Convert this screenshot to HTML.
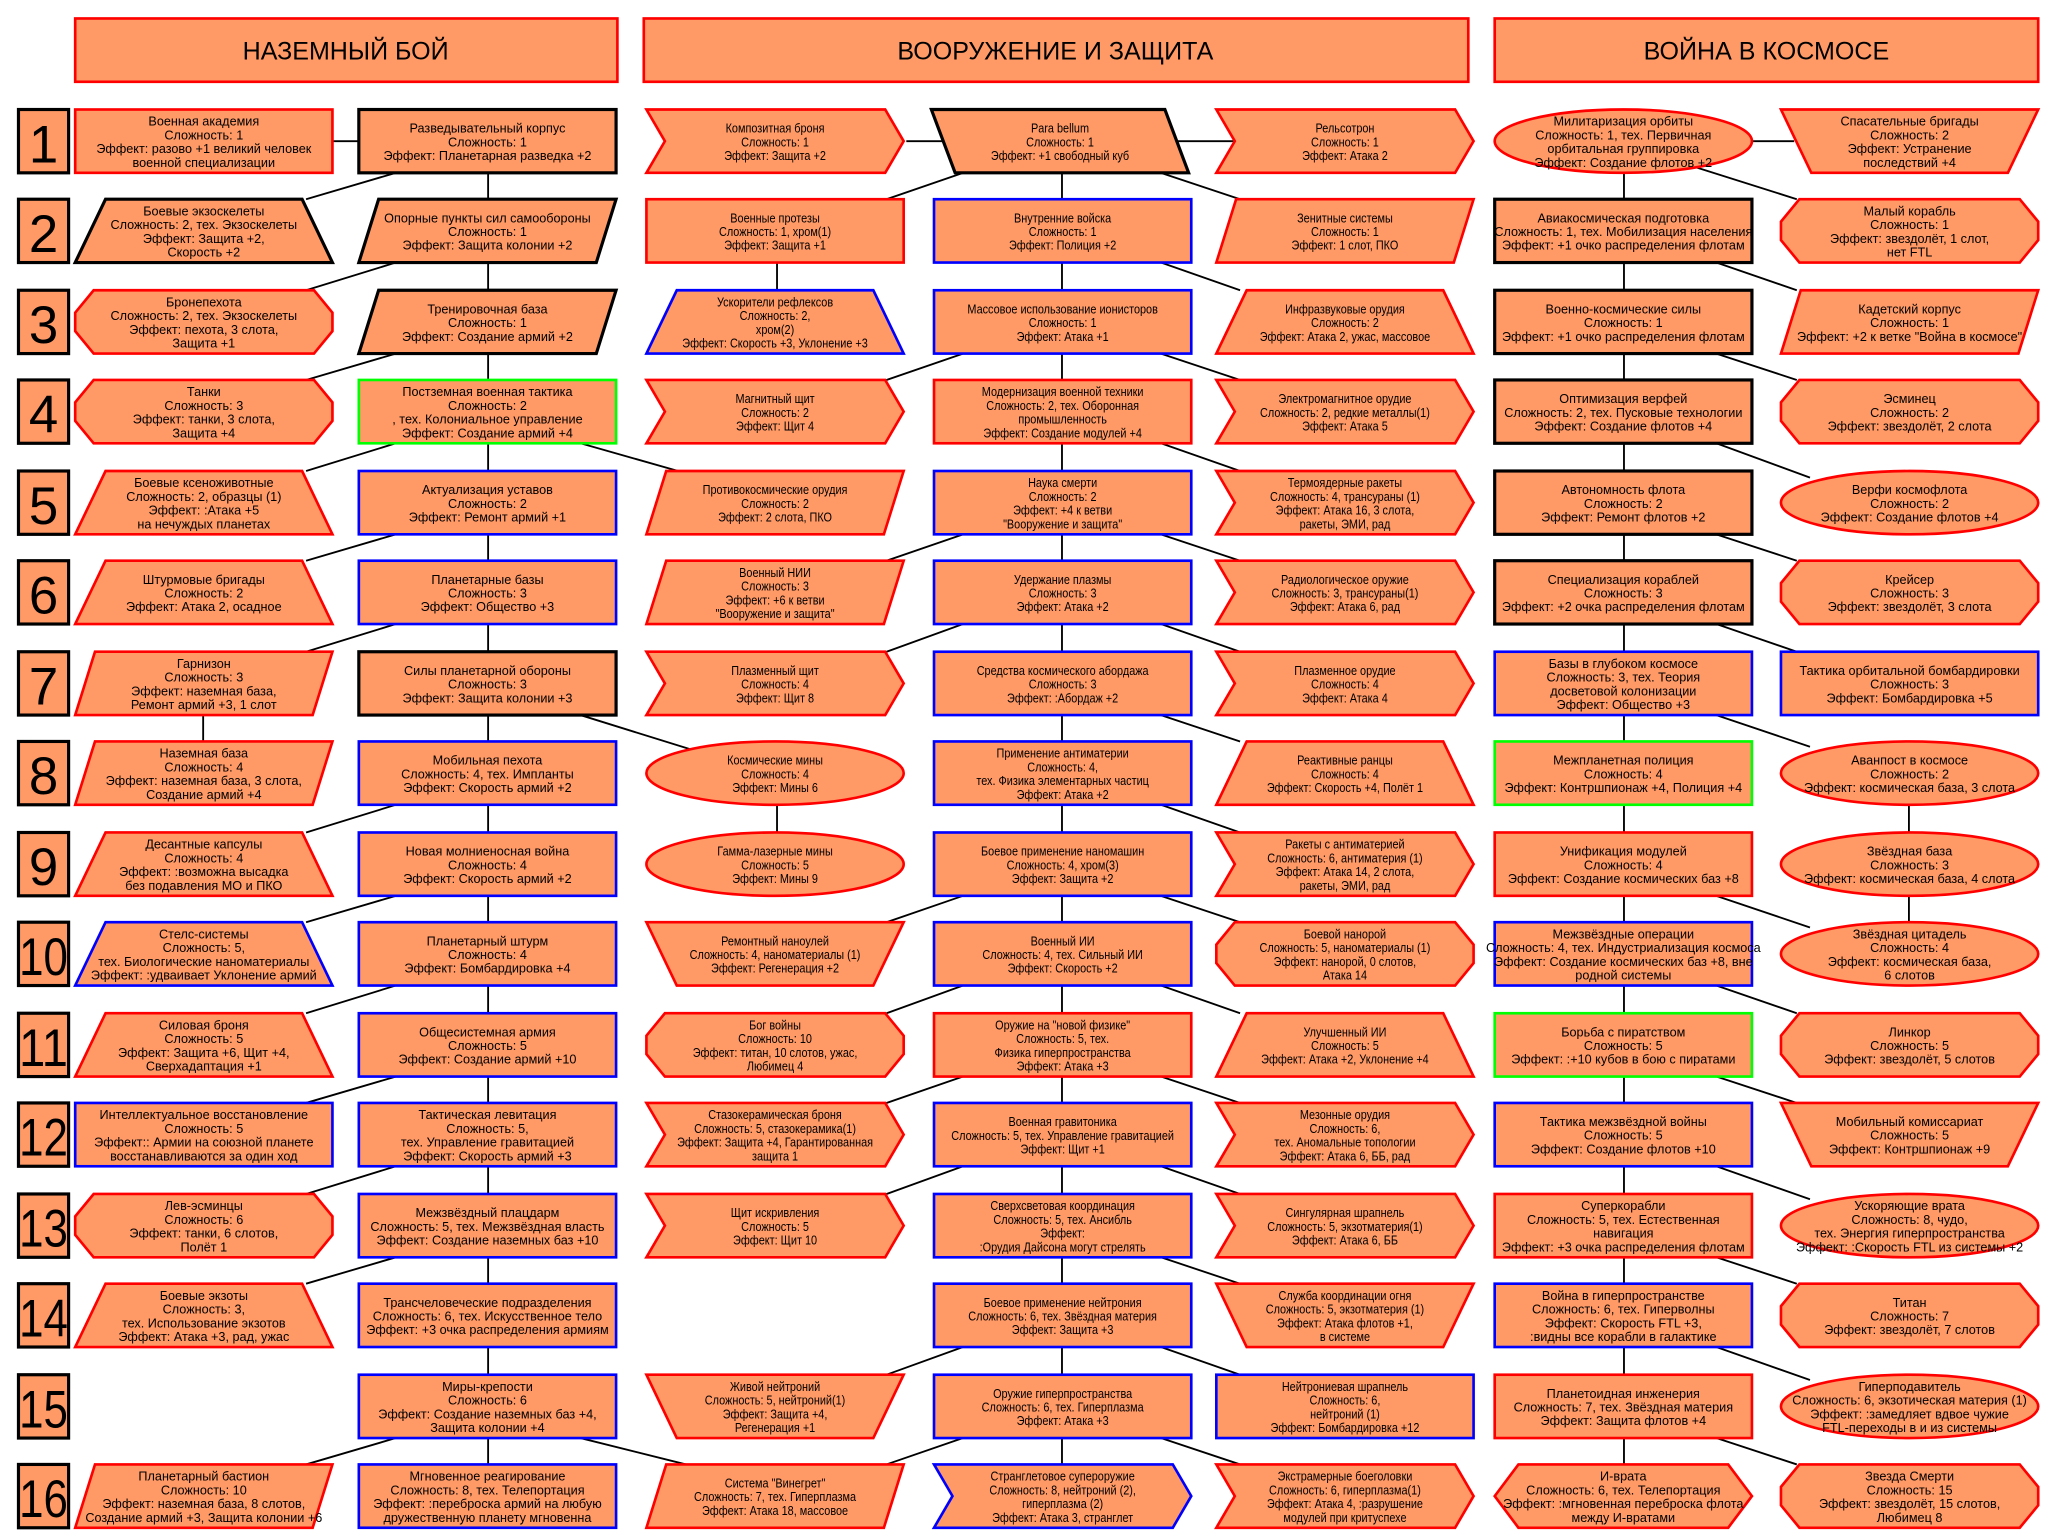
<!DOCTYPE html>
<html><head><meta charset="utf-8"><style>
html,body{margin:0;padding:0;background:#fff}
svg{display:block}
.r,.k,.b,.g{fill:#ff9966;stroke-width:2}
.r{stroke:#ff0000}.k{stroke:#000;stroke-width:2.4}.b{stroke:#0000ff}.g{stroke:#00ff00}
text{font-family:"Liberation Sans",sans-serif;font-size:9.6px;fill:#000;text-anchor:middle}
.n{transform:translate(97.5px,0) scaleX(.86) translate(-97.5px,0)}
.h{font-size:19px}
.num{font-size:40px}
line{stroke:#000;stroke-width:1.4}
</style></head><body>
<svg width="2058" height="1537" viewBox="0 0 1560 1165" preserveAspectRatio="none" xmlns="http://www.w3.org/2000/svg">
<defs>
<polygon id="chev" points="0,0 181,0 195,24 181,48 0,48 14,24"/>
</defs>
<!-- headers -->
<rect class="r" x="57" y="14" width="411" height="48"/><text class="h" x="262" y="45">НАЗЕМНЫЙ БОЙ</text>
<rect class="r" x="488" y="14" width="625" height="48"/><text class="h" x="800" y="45">ВООРУЖЕНИЕ И ЗАЩИТА</text>
<rect class="r" x="1133" y="14" width="412" height="48"/><text class="h" x="1339" y="45">ВОЙНА В КОСМОСЕ</text>

<!-- row numbers -->
<g>
<rect class="k" x="14" y="83" width="38" height="48"/><text class="num" x="33" y="123">1</text>
<rect class="k" x="14" y="151" width="38" height="48"/><text class="num" x="33" y="191">2</text>
<rect class="k" x="14" y="220" width="38" height="48"/><text class="num" x="33" y="260">3</text>
<rect class="k" x="14" y="288" width="38" height="48"/><text class="num" x="33" y="328">4</text>
<rect class="k" x="14" y="357" width="38" height="48"/><text class="num" x="33" y="397">5</text>
<rect class="k" x="14" y="425" width="38" height="48"/><text class="num" x="33" y="465">6</text>
<rect class="k" x="14" y="494" width="38" height="48"/><text class="num" x="33" y="534">7</text>
<rect class="k" x="14" y="562" width="38" height="48"/><text class="num" x="33" y="602">8</text>
<rect class="k" x="14" y="631" width="38" height="48"/><text class="num" x="33" y="671">9</text>
<rect class="k" x="14" y="699" width="38" height="48"/><text class="num" x="33" y="739" textLength="37" lengthAdjust="spacingAndGlyphs">10</text>
<rect class="k" x="14" y="768" width="38" height="48"/><text class="num" x="33" y="808" textLength="37" lengthAdjust="spacingAndGlyphs">11</text>
<rect class="k" x="14" y="836" width="38" height="48"/><text class="num" x="33" y="876" textLength="37" lengthAdjust="spacingAndGlyphs">12</text>
<rect class="k" x="14" y="905" width="38" height="48"/><text class="num" x="33" y="945" textLength="37" lengthAdjust="spacingAndGlyphs">13</text>
<rect class="k" x="14" y="973" width="38" height="48"/><text class="num" x="33" y="1013" textLength="37" lengthAdjust="spacingAndGlyphs">14</text>
<rect class="k" x="14" y="1042" width="38" height="48"/><text class="num" x="33" y="1082" textLength="37" lengthAdjust="spacingAndGlyphs">15</text>
<rect class="k" x="14" y="1110" width="38" height="48"/><text class="num" x="33" y="1150" textLength="37" lengthAdjust="spacingAndGlyphs">16</text>
</g>

<!-- connectors -->
<g>
<line x1="252" y1="107" x2="272" y2="107"/>
<line x1="687" y1="107" x2="714" y2="107"/>
<line x1="890" y1="107" x2="935" y2="107"/>
<line x1="1328" y1="107" x2="1360" y2="107"/>
<line x1="370" y1="107" x2="370" y2="1134"/>
<line x1="805" y1="107" x2="805" y2="1134"/>
<line x1="1231" y1="107" x2="1231" y2="1134"/>
<line x1="154" y1="530" x2="154" y2="570"/>
<line x1="589" y1="190" x2="589" y2="230"/>
<line x1="589" y1="600" x2="589" y2="640"/>
<line x1="1447" y1="586" x2="1447" y2="723"/>
<!-- A diagonals -->
<line x1="300" y1="131" x2="232" y2="151"/>
<line x1="300" y1="199" x2="232" y2="220"/>
<line x1="300" y1="268" x2="232" y2="288"/>
<line x1="300" y1="336" x2="232" y2="357"/>
<line x1="300" y1="405" x2="232" y2="425"/>
<line x1="300" y1="473" x2="232" y2="494"/>
<line x1="300" y1="610" x2="232" y2="631"/>
<line x1="300" y1="679" x2="232" y2="699"/>
<line x1="300" y1="747" x2="232" y2="768"/>
<line x1="300" y1="816" x2="232" y2="836"/>
<line x1="300" y1="884" x2="232" y2="905"/>
<line x1="300" y1="953" x2="232" y2="973"/>
<line x1="300" y1="1090" x2="232" y2="1110"/>
<line x1="440" y1="336" x2="514" y2="357"/>
<line x1="440" y1="542" x2="530" y2="570"/>
<line x1="440" y1="1090" x2="520" y2="1110"/>
<!-- B left diagonals -->
<line x1="730" y1="131" x2="672" y2="151"/>
<line x1="730" y1="268" x2="672" y2="288"/>
<line x1="730" y1="405" x2="672" y2="425"/>
<line x1="730" y1="473" x2="672" y2="494"/>
<line x1="730" y1="679" x2="672" y2="699"/>
<line x1="730" y1="747" x2="672" y2="768"/>
<line x1="730" y1="816" x2="672" y2="836"/>
<line x1="730" y1="884" x2="672" y2="905"/>
<line x1="730" y1="1021" x2="672" y2="1042"/>
<line x1="730" y1="1090" x2="672" y2="1110"/>
<!-- B right diagonals -->
<line x1="880" y1="131" x2="940" y2="151"/>
<line x1="880" y1="199" x2="940" y2="220"/>
<line x1="880" y1="268" x2="940" y2="288"/>
<line x1="880" y1="336" x2="940" y2="357"/>
<line x1="880" y1="405" x2="940" y2="425"/>
<line x1="880" y1="473" x2="940" y2="494"/>
<line x1="880" y1="542" x2="940" y2="562"/>
<line x1="880" y1="610" x2="940" y2="631"/>
<line x1="880" y1="679" x2="940" y2="699"/>
<line x1="880" y1="747" x2="940" y2="768"/>
<line x1="880" y1="816" x2="940" y2="836"/>
<line x1="880" y1="884" x2="940" y2="905"/>
<line x1="880" y1="953" x2="940" y2="973"/>
<line x1="880" y1="1021" x2="940" y2="1042"/>
<line x1="880" y1="1090" x2="940" y2="1110"/>
<!-- C diagonals -->
<line x1="1283" y1="126" x2="1362" y2="151"/>
<line x1="1301" y1="199" x2="1362" y2="220"/>
<line x1="1301" y1="268" x2="1362" y2="288"/>
<line x1="1301" y1="336" x2="1372" y2="362"/>
<line x1="1301" y1="405" x2="1362" y2="425"/>
<line x1="1301" y1="473" x2="1362" y2="494"/>
<line x1="1301" y1="542" x2="1372" y2="566"/>
<line x1="1301" y1="679" x2="1372" y2="703"/>
<line x1="1301" y1="747" x2="1362" y2="768"/>
<line x1="1301" y1="816" x2="1362" y2="836"/>
<line x1="1301" y1="884" x2="1372" y2="909"/>
<line x1="1301" y1="953" x2="1362" y2="973"/>
<line x1="1301" y1="1021" x2="1372" y2="1046"/>
<line x1="1301" y1="1090" x2="1362" y2="1110"/>
</g>

<!-- ROW 1 -->
<g transform="translate(57,83)"><rect class="r" width="195" height="48"/><text y="12.3"><tspan x="97.5">Военная академия</tspan><tspan x="97.5" dy="10.4">Сложность: 1</tspan><tspan x="97.5" dy="10.4">Эффект: разово +1 великий человек</tspan><tspan x="97.5" dy="10.4">военной специализации</tspan></text></g>
<g transform="translate(272,83)"><rect class="k" width="195" height="48"/><text y="17.5"><tspan x="97.5">Разведывательный корпус</tspan><tspan x="97.5" dy="10.4">Сложность: 1</tspan><tspan x="97.5" dy="10.4">Эффект: Планетарная разведка +2</tspan></text></g>
<g transform="translate(490,83)"><polygon class="r" points="0,0 181,0 195,24 181,48 0,48 14,24"/><text class="n" y="17.5"><tspan x="97.5">Композитная броня</tspan><tspan x="97.5" dy="10.4">Сложность: 1</tspan><tspan x="97.5" dy="10.4">Эффект: Защита +2</tspan></text></g>
<g transform="translate(706,83)"><polygon class="k" points="0,0 177,0 195,48 18,48"/><text class="n" y="17.5"><tspan x="97.5">Para bellum</tspan><tspan x="97.5" dy="10.4">Сложность: 1</tspan><tspan x="97.5" dy="10.4">Эффект: +1 свободный куб</tspan></text></g>
<g transform="translate(922,83)"><polygon class="r" points="0,0 181,0 195,24 181,48 0,48 14,24"/><text class="n" y="17.5"><tspan x="97.5">Рельсотрон</tspan><tspan x="97.5" dy="10.4">Сложность: 1</tspan><tspan x="97.5" dy="10.4">Эффект: Атака 2</tspan></text></g>
<g transform="translate(1133,83)"><ellipse class="r" cx="97.5" cy="24" rx="97.5" ry="24"/><text y="12.3"><tspan x="97.5">Милитаризация орбиты</tspan><tspan x="97.5" dy="10.4">Сложность: 1, тех. Первичная</tspan><tspan x="97.5" dy="10.4">орбитальная группировка</tspan><tspan x="97.5" dy="10.4">Эффект: Создание флотов +2</tspan></text></g>
<g transform="translate(1350,83)"><polygon class="r" points="0,0 195,0 172,48 23,48"/><text y="12.3"><tspan x="97.5">Спасательные бригады</tspan><tspan x="97.5" dy="10.4">Сложность: 2</tspan><tspan x="97.5" dy="10.4">Эффект: Устранение</tspan><tspan x="97.5" dy="10.4">последствий +4</tspan></text></g>

<!-- ROW 2 -->
<g transform="translate(57,151)"><polygon class="k" points="23,0 172,0 195,48 0,48"/><text y="12.3"><tspan x="97.5">Боевые экзоскелеты</tspan><tspan x="97.5" dy="10.4">Сложность: 2, тех. Экзоскелеты</tspan><tspan x="97.5" dy="10.4">Эффект: Защита +2,</tspan><tspan x="97.5" dy="10.4">Скорость +2</tspan></text></g>
<g transform="translate(272,151)"><polygon class="k" points="15,0 195,0 180,48 0,48"/><text y="17.5"><tspan x="97.5">Опорные пункты сил самообороны</tspan><tspan x="97.5" dy="10.4">Сложность: 1</tspan><tspan x="97.5" dy="10.4">Эффект: Защита колонии +2</tspan></text></g>
<g transform="translate(490,151)"><rect class="r" width="195" height="48"/><text class="n" y="17.5"><tspan x="97.5">Военные протезы</tspan><tspan x="97.5" dy="10.4">Сложность: 1, хром(1)</tspan><tspan x="97.5" dy="10.4">Эффект: Защита +1</tspan></text></g>
<g transform="translate(708,151)"><rect class="b" width="195" height="48"/><text class="n" y="17.5"><tspan x="97.5">Внутренние войска</tspan><tspan x="97.5" dy="10.4">Сложность: 1</tspan><tspan x="97.5" dy="10.4">Эффект: Полиция +2</tspan></text></g>
<g transform="translate(922,151)"><polygon class="r" points="15,0 195,0 180,48 0,48"/><text class="n" y="17.5"><tspan x="97.5">Зенитные системы</tspan><tspan x="97.5" dy="10.4">Сложность: 1</tspan><tspan x="97.5" dy="10.4">Эффект: 1 слот, ПКО</tspan></text></g>
<g transform="translate(1133,151)"><rect class="k" width="195" height="48"/><text y="17.5"><tspan x="97.5">Авиакосмическая подготовка</tspan><tspan x="97.5" dy="10.4">Сложность: 1, тех. Мобилизация населения</tspan><tspan x="97.5" dy="10.4">Эффект: +1 очко распределения флотам</tspan></text></g>
<g transform="translate(1350,151)"><polygon class="r" points="14,0 181,0 195,17 195,31 181,48 14,48 0,31 0,17"/><text y="12.3"><tspan x="97.5">Малый корабль</tspan><tspan x="97.5" dy="10.4">Сложность: 1</tspan><tspan x="97.5" dy="10.4">Эффект: звездолёт, 1 слот,</tspan><tspan x="97.5" dy="10.4">нет FTL</tspan></text></g>

<!-- ROW 3 -->
<g transform="translate(57,220)"><polygon class="r" points="14,0 181,0 195,17 195,31 181,48 14,48 0,31 0,17"/><text y="12.3"><tspan x="97.5">Бронепехота</tspan><tspan x="97.5" dy="10.4">Сложность: 2, тех. Экзоскелеты</tspan><tspan x="97.5" dy="10.4">Эффект: пехота, 3 слота,</tspan><tspan x="97.5" dy="10.4">Защита +1</tspan></text></g>
<g transform="translate(272,220)"><polygon class="k" points="15,0 195,0 180,48 0,48"/><text y="17.5"><tspan x="97.5">Тренировочная база</tspan><tspan x="97.5" dy="10.4">Сложность: 1</tspan><tspan x="97.5" dy="10.4">Эффект: Создание армий +2</tspan></text></g>
<g transform="translate(490,220)"><polygon class="b" points="23,0 172,0 195,48 0,48"/><text class="n" y="12.3"><tspan x="97.5">Ускорители рефлексов</tspan><tspan x="97.5" dy="10.4">Сложность: 2,</tspan><tspan x="97.5" dy="10.4">хром(2)</tspan><tspan x="97.5" dy="10.4">Эффект: Скорость +3, Уклонение +3</tspan></text></g>
<g transform="translate(708,220)"><rect class="b" width="195" height="48"/><text class="n" y="17.5"><tspan x="97.5">Массовое использование ионисторов</tspan><tspan x="97.5" dy="10.4">Сложность: 1</tspan><tspan x="97.5" dy="10.4">Эффект: Атака +1</tspan></text></g>
<g transform="translate(922,220)"><polygon class="r" points="23,0 172,0 195,48 0,48"/><text class="n" y="17.5"><tspan x="97.5">Инфразвуковые орудия</tspan><tspan x="97.5" dy="10.4">Сложность: 2</tspan><tspan x="97.5" dy="10.4">Эффект: Атака 2, ужас, массовое</tspan></text></g>
<g transform="translate(1133,220)"><rect class="k" width="195" height="48"/><text y="17.5"><tspan x="97.5">Военно-космические силы</tspan><tspan x="97.5" dy="10.4">Сложность: 1</tspan><tspan x="97.5" dy="10.4">Эффект: +1 очко распределения флотам</tspan></text></g>
<g transform="translate(1350,220)"><polygon class="r" points="15,0 195,0 180,48 0,48"/><text y="17.5"><tspan x="97.5">Кадетский корпус</tspan><tspan x="97.5" dy="10.4">Сложность: 1</tspan><tspan x="97.5" dy="10.4">Эффект: +2 к ветке "Война в космосе"</tspan></text></g>

<!-- ROW 4 -->
<g transform="translate(57,288)"><polygon class="r" points="14,0 181,0 195,17 195,31 181,48 14,48 0,31 0,17"/><text y="12.3"><tspan x="97.5">Танки</tspan><tspan x="97.5" dy="10.4">Сложность: 3</tspan><tspan x="97.5" dy="10.4">Эффект: танки, 3 слота,</tspan><tspan x="97.5" dy="10.4">Защита +4</tspan></text></g>
<g transform="translate(272,288)"><rect class="g" width="195" height="48"/><text y="12.3"><tspan x="97.5">Постземная военная тактика</tspan><tspan x="97.5" dy="10.4">Сложность: 2</tspan><tspan x="97.5" dy="10.4">, тех. Колониальное управление</tspan><tspan x="97.5" dy="10.4">Эффект: Создание армий +4</tspan></text></g>
<g transform="translate(490,288)"><polygon class="r" points="0,0 181,0 195,24 181,48 0,48 14,24"/><text class="n" y="17.5"><tspan x="97.5">Магнитный щит</tspan><tspan x="97.5" dy="10.4">Сложность: 2</tspan><tspan x="97.5" dy="10.4">Эффект: Щит 4</tspan></text></g>
<g transform="translate(708,288)"><rect class="r" width="195" height="48"/><text class="n" y="12.3"><tspan x="97.5">Модернизация военной техники</tspan><tspan x="97.5" dy="10.4">Сложность: 2, тех. Оборонная</tspan><tspan x="97.5" dy="10.4">промышленность</tspan><tspan x="97.5" dy="10.4">Эффект: Создание модулей +4</tspan></text></g>
<g transform="translate(922,288)"><polygon class="r" points="0,0 181,0 195,24 181,48 0,48 14,24"/><text class="n" y="17.5"><tspan x="97.5">Электромагнитное орудие</tspan><tspan x="97.5" dy="10.4">Сложность: 2, редкие металлы(1)</tspan><tspan x="97.5" dy="10.4">Эффект: Атака 5</tspan></text></g>
<g transform="translate(1133,288)"><rect class="k" width="195" height="48"/><text y="17.5"><tspan x="97.5">Оптимизация верфей</tspan><tspan x="97.5" dy="10.4">Сложность: 2, тех. Пусковые технологии</tspan><tspan x="97.5" dy="10.4">Эффект: Создание флотов +4</tspan></text></g>
<g transform="translate(1350,288)"><polygon class="r" points="14,0 181,0 195,17 195,31 181,48 14,48 0,31 0,17"/><text y="17.5"><tspan x="97.5">Эсминец</tspan><tspan x="97.5" dy="10.4">Сложность: 2</tspan><tspan x="97.5" dy="10.4">Эффект: звездолёт, 2 слота</tspan></text></g>

<!-- ROW 5 -->
<g transform="translate(57,357)"><polygon class="r" points="23,0 172,0 195,48 0,48"/><text y="12.3"><tspan x="97.5">Боевые ксеноживотные</tspan><tspan x="97.5" dy="10.4">Сложность: 2, образцы (1)</tspan><tspan x="97.5" dy="10.4">Эффект: :Атака +5</tspan><tspan x="97.5" dy="10.4">на нечуждых планетах</tspan></text></g>
<g transform="translate(272,357)"><rect class="b" width="195" height="48"/><text y="17.5"><tspan x="97.5">Актуализация уставов</tspan><tspan x="97.5" dy="10.4">Сложность: 2</tspan><tspan x="97.5" dy="10.4">Эффект: Ремонт армий +1</tspan></text></g>
<g transform="translate(490,357)"><polygon class="r" points="15,0 195,0 180,48 0,48"/><text class="n" y="17.5"><tspan x="97.5">Противокосмические орудия</tspan><tspan x="97.5" dy="10.4">Сложность: 2</tspan><tspan x="97.5" dy="10.4">Эффект: 2 слота, ПКО</tspan></text></g>
<g transform="translate(708,357)"><rect class="b" width="195" height="48"/><text class="n" y="12.3"><tspan x="97.5">Наука смерти</tspan><tspan x="97.5" dy="10.4">Сложность: 2</tspan><tspan x="97.5" dy="10.4">Эффект: +4 к ветви</tspan><tspan x="97.5" dy="10.4">"Вооружение и защита"</tspan></text></g>
<g transform="translate(922,357)"><polygon class="r" points="0,0 181,0 195,24 181,48 0,48 14,24"/><text class="n" y="12.3"><tspan x="97.5">Термоядерные ракеты</tspan><tspan x="97.5" dy="10.4">Сложность: 4, трансураны (1)</tspan><tspan x="97.5" dy="10.4">Эффект: Атака 16, 3 слота,</tspan><tspan x="97.5" dy="10.4">ракеты, ЭМИ, рад</tspan></text></g>
<g transform="translate(1133,357)"><rect class="k" width="195" height="48"/><text y="17.5"><tspan x="97.5">Автономность флота</tspan><tspan x="97.5" dy="10.4">Сложность: 2</tspan><tspan x="97.5" dy="10.4">Эффект: Ремонт флотов +2</tspan></text></g>
<g transform="translate(1350,357)"><ellipse class="r" cx="97.5" cy="24" rx="97.5" ry="24"/><text y="17.5"><tspan x="97.5">Верфи космофлота</tspan><tspan x="97.5" dy="10.4">Сложность: 2</tspan><tspan x="97.5" dy="10.4">Эффект: Создание флотов +4</tspan></text></g>

<!-- ROW 6 -->
<g transform="translate(57,425)"><polygon class="r" points="23,0 172,0 195,48 0,48"/><text y="17.5"><tspan x="97.5">Штурмовые бригады</tspan><tspan x="97.5" dy="10.4">Сложность: 2</tspan><tspan x="97.5" dy="10.4">Эффект: Атака 2, осадное</tspan></text></g>
<g transform="translate(272,425)"><rect class="b" width="195" height="48"/><text y="17.5"><tspan x="97.5">Планетарные базы</tspan><tspan x="97.5" dy="10.4">Сложность: 3</tspan><tspan x="97.5" dy="10.4">Эффект: Общество +3</tspan></text></g>
<g transform="translate(490,425)"><polygon class="r" points="15,0 195,0 180,48 0,48"/><text class="n" y="12.3"><tspan x="97.5">Военный НИИ</tspan><tspan x="97.5" dy="10.4">Сложность: 3</tspan><tspan x="97.5" dy="10.4">Эффект: +6 к ветви</tspan><tspan x="97.5" dy="10.4">"Вооружение и защита"</tspan></text></g>
<g transform="translate(708,425)"><rect class="b" width="195" height="48"/><text class="n" y="17.5"><tspan x="97.5">Удержание плазмы</tspan><tspan x="97.5" dy="10.4">Сложность: 3</tspan><tspan x="97.5" dy="10.4">Эффект: Атака +2</tspan></text></g>
<g transform="translate(922,425)"><polygon class="r" points="0,0 181,0 195,24 181,48 0,48 14,24"/><text class="n" y="17.5"><tspan x="97.5">Радиологическое оружие</tspan><tspan x="97.5" dy="10.4">Сложность: 3, трансураны(1)</tspan><tspan x="97.5" dy="10.4">Эффект: Атака 6, рад</tspan></text></g>
<g transform="translate(1133,425)"><rect class="k" width="195" height="48"/><text y="17.5"><tspan x="97.5">Специализация кораблей</tspan><tspan x="97.5" dy="10.4">Сложность: 3</tspan><tspan x="97.5" dy="10.4">Эффект: +2 очка распределения флотам</tspan></text></g>
<g transform="translate(1350,425)"><polygon class="r" points="14,0 181,0 195,17 195,31 181,48 14,48 0,31 0,17"/><text y="17.5"><tspan x="97.5">Крейсер</tspan><tspan x="97.5" dy="10.4">Сложность: 3</tspan><tspan x="97.5" dy="10.4">Эффект: звездолёт, 3 слота</tspan></text></g>

<!-- ROW 7 -->
<g transform="translate(57,494)"><polygon class="r" points="15,0 195,0 180,48 0,48"/><text y="12.3"><tspan x="97.5">Гарнизон</tspan><tspan x="97.5" dy="10.4">Сложность: 3</tspan><tspan x="97.5" dy="10.4">Эффект: наземная база,</tspan><tspan x="97.5" dy="10.4">Ремонт армий +3, 1 слот</tspan></text></g>
<g transform="translate(272,494)"><rect class="k" width="195" height="48"/><text y="17.5"><tspan x="97.5">Силы планетарной обороны</tspan><tspan x="97.5" dy="10.4">Сложность: 3</tspan><tspan x="97.5" dy="10.4">Эффект: Защита колонии +3</tspan></text></g>
<g transform="translate(490,494)"><polygon class="r" points="0,0 181,0 195,24 181,48 0,48 14,24"/><text class="n" y="17.5"><tspan x="97.5">Плазменный щит</tspan><tspan x="97.5" dy="10.4">Сложность: 4</tspan><tspan x="97.5" dy="10.4">Эффект: Щит 8</tspan></text></g>
<g transform="translate(708,494)"><rect class="b" width="195" height="48"/><text class="n" y="17.5"><tspan x="97.5">Средства космического абордажа</tspan><tspan x="97.5" dy="10.4">Сложность: 3</tspan><tspan x="97.5" dy="10.4">Эффект: :Абордаж +2</tspan></text></g>
<g transform="translate(922,494)"><polygon class="r" points="0,0 181,0 195,24 181,48 0,48 14,24"/><text class="n" y="17.5"><tspan x="97.5">Плазменное орудие</tspan><tspan x="97.5" dy="10.4">Сложность: 4</tspan><tspan x="97.5" dy="10.4">Эффект: Атака 4</tspan></text></g>
<g transform="translate(1133,494)"><rect class="b" width="195" height="48"/><text y="12.3"><tspan x="97.5">Базы в глубоком космосе</tspan><tspan x="97.5" dy="10.4">Сложность: 3, тех. Теория</tspan><tspan x="97.5" dy="10.4">досветовой колонизации</tspan><tspan x="97.5" dy="10.4">Эффект: Общество +3</tspan></text></g>
<g transform="translate(1350,494)"><rect class="b" width="195" height="48"/><text y="17.5"><tspan x="97.5">Тактика орбитальной бомбардировки</tspan><tspan x="97.5" dy="10.4">Сложность: 3</tspan><tspan x="97.5" dy="10.4">Эффект: Бомбардировка +5</tspan></text></g>

<!-- ROW 8 -->
<g transform="translate(57,562)"><polygon class="r" points="15,0 195,0 180,48 0,48"/><text y="12.3"><tspan x="97.5">Наземная база</tspan><tspan x="97.5" dy="10.4">Сложность: 4</tspan><tspan x="97.5" dy="10.4">Эффект: наземная база, 3 слота,</tspan><tspan x="97.5" dy="10.4">Создание армий +4</tspan></text></g>
<g transform="translate(272,562)"><rect class="b" width="195" height="48"/><text y="17.5"><tspan x="97.5">Мобильная пехота</tspan><tspan x="97.5" dy="10.4">Сложность: 4, тех. Импланты</tspan><tspan x="97.5" dy="10.4">Эффект: Скорость армий +2</tspan></text></g>
<g transform="translate(490,562)"><ellipse class="r" cx="97.5" cy="24" rx="97.5" ry="24"/><text class="n" y="17.5"><tspan x="97.5">Космические мины</tspan><tspan x="97.5" dy="10.4">Сложность: 4</tspan><tspan x="97.5" dy="10.4">Эффект: Мины 6</tspan></text></g>
<g transform="translate(708,562)"><rect class="b" width="195" height="48"/><text class="n" y="12.3"><tspan x="97.5">Применение антиматерии</tspan><tspan x="97.5" dy="10.4">Сложность: 4,</tspan><tspan x="97.5" dy="10.4">тех. Физика элементарных частиц</tspan><tspan x="97.5" dy="10.4">Эффект: Атака +2</tspan></text></g>
<g transform="translate(922,562)"><polygon class="r" points="23,0 172,0 195,48 0,48"/><text class="n" y="17.5"><tspan x="97.5">Реактивные ранцы</tspan><tspan x="97.5" dy="10.4">Сложность: 4</tspan><tspan x="97.5" dy="10.4">Эффект: Скорость +4, Полёт 1</tspan></text></g>
<g transform="translate(1133,562)"><rect class="g" width="195" height="48"/><text y="17.5"><tspan x="97.5">Межпланетная полиция</tspan><tspan x="97.5" dy="10.4">Сложность: 4</tspan><tspan x="97.5" dy="10.4">Эффект: Контршпионаж +4, Полиция +4</tspan></text></g>
<g transform="translate(1350,562)"><ellipse class="r" cx="97.5" cy="24" rx="97.5" ry="24"/><text y="17.5"><tspan x="97.5">Аванпост в космосе</tspan><tspan x="97.5" dy="10.4">Сложность: 2</tspan><tspan x="97.5" dy="10.4">Эффект: космическая база, 3 слота</tspan></text></g>

<!-- ROW 9 -->
<g transform="translate(57,631)"><polygon class="r" points="23,0 172,0 195,48 0,48"/><text y="12.3"><tspan x="97.5">Десантные капсулы</tspan><tspan x="97.5" dy="10.4">Сложность: 4</tspan><tspan x="97.5" dy="10.4">Эффект: :возможна высадка</tspan><tspan x="97.5" dy="10.4">без подавления МО и ПКО</tspan></text></g>
<g transform="translate(272,631)"><rect class="b" width="195" height="48"/><text y="17.5"><tspan x="97.5">Новая молниеносная война</tspan><tspan x="97.5" dy="10.4">Сложность: 4</tspan><tspan x="97.5" dy="10.4">Эффект: Скорость армий +2</tspan></text></g>
<g transform="translate(490,631)"><ellipse class="r" cx="97.5" cy="24" rx="97.5" ry="24"/><text class="n" y="17.5"><tspan x="97.5">Гамма-лазерные мины</tspan><tspan x="97.5" dy="10.4">Сложность: 5</tspan><tspan x="97.5" dy="10.4">Эффект: Мины 9</tspan></text></g>
<g transform="translate(708,631)"><rect class="b" width="195" height="48"/><text class="n" y="17.5"><tspan x="97.5">Боевое применение наномашин</tspan><tspan x="97.5" dy="10.4">Сложность: 4, хром(3)</tspan><tspan x="97.5" dy="10.4">Эффект: Защита +2</tspan></text></g>
<g transform="translate(922,631)"><polygon class="r" points="0,0 181,0 195,24 181,48 0,48 14,24"/><text class="n" y="12.3"><tspan x="97.5">Ракеты с антиматерией</tspan><tspan x="97.5" dy="10.4">Сложность: 6, антиматерия (1)</tspan><tspan x="97.5" dy="10.4">Эффект: Атака 14, 2 слота,</tspan><tspan x="97.5" dy="10.4">ракеты, ЭМИ, рад</tspan></text></g>
<g transform="translate(1133,631)"><rect class="r" width="195" height="48"/><text y="17.5"><tspan x="97.5">Унификация модулей</tspan><tspan x="97.5" dy="10.4">Сложность: 4</tspan><tspan x="97.5" dy="10.4">Эффект: Создание космических баз +8</tspan></text></g>
<g transform="translate(1350,631)"><ellipse class="r" cx="97.5" cy="24" rx="97.5" ry="24"/><text y="17.5"><tspan x="97.5">Звёздная база</tspan><tspan x="97.5" dy="10.4">Сложность: 3</tspan><tspan x="97.5" dy="10.4">Эффект: космическая база, 4 слота</tspan></text></g>

<!-- ROW 10 -->
<g transform="translate(57,699)"><polygon class="b" points="23,0 172,0 195,48 0,48"/><text y="12.3"><tspan x="97.5">Стелс-системы</tspan><tspan x="97.5" dy="10.4">Сложность: 5,</tspan><tspan x="97.5" dy="10.4">тех. Биологические наноматериалы</tspan><tspan x="97.5" dy="10.4">Эффект: :удваивает Уклонение армий</tspan></text></g>
<g transform="translate(272,699)"><rect class="b" width="195" height="48"/><text y="17.5"><tspan x="97.5">Планетарный штурм</tspan><tspan x="97.5" dy="10.4">Сложность: 4</tspan><tspan x="97.5" dy="10.4">Эффект: Бомбардировка +4</tspan></text></g>
<g transform="translate(490,699)"><polygon class="r" points="0,0 195,0 172,48 23,48"/><text class="n" y="17.5"><tspan x="97.5">Ремонтный наноулей</tspan><tspan x="97.5" dy="10.4">Сложность: 4, наноматериалы (1)</tspan><tspan x="97.5" dy="10.4">Эффект: Регенерация +2</tspan></text></g>
<g transform="translate(708,699)"><rect class="b" width="195" height="48"/><text class="n" y="17.5"><tspan x="97.5">Военный ИИ</tspan><tspan x="97.5" dy="10.4">Сложность: 4, тех. Сильный ИИ</tspan><tspan x="97.5" dy="10.4">Эффект: Скорость +2</tspan></text></g>
<g transform="translate(922,699)"><polygon class="r" points="14,0 181,0 195,17 195,31 181,48 14,48 0,31 0,17"/><text class="n" y="12.3"><tspan x="97.5">Боевой нанорой</tspan><tspan x="97.5" dy="10.4">Сложность: 5, наноматериалы (1)</tspan><tspan x="97.5" dy="10.4">Эффект: нанорой, 0 слотов,</tspan><tspan x="97.5" dy="10.4">Атака 14</tspan></text></g>
<g transform="translate(1133,699)"><rect class="b" width="195" height="48"/><text y="12.3"><tspan x="97.5">Межзвёздные операции</tspan><tspan x="97.5" dy="10.4">Сложность: 4, тех. Индустриализация космоса</tspan><tspan x="97.5" dy="10.4">Эффект: Создание космических баз +8, вне</tspan><tspan x="97.5" dy="10.4">родной системы</tspan></text></g>
<g transform="translate(1350,699)"><ellipse class="r" cx="97.5" cy="24" rx="97.5" ry="24"/><text y="12.3"><tspan x="97.5">Звёздная цитадель</tspan><tspan x="97.5" dy="10.4">Сложность: 4</tspan><tspan x="97.5" dy="10.4">Эффект: космическая база,</tspan><tspan x="97.5" dy="10.4">6 слотов</tspan></text></g>

<!-- ROW 11 -->
<g transform="translate(57,768)"><polygon class="r" points="23,0 172,0 195,48 0,48"/><text y="12.3"><tspan x="97.5">Силовая броня</tspan><tspan x="97.5" dy="10.4">Сложность: 5</tspan><tspan x="97.5" dy="10.4">Эффект: Защита +6, Щит +4,</tspan><tspan x="97.5" dy="10.4">Сверхадаптация +1</tspan></text></g>
<g transform="translate(272,768)"><rect class="b" width="195" height="48"/><text y="17.5"><tspan x="97.5">Общесистемная армия</tspan><tspan x="97.5" dy="10.4">Сложность: 5</tspan><tspan x="97.5" dy="10.4">Эффект: Создание армий +10</tspan></text></g>
<g transform="translate(490,768)"><polygon class="r" points="14,0 181,0 195,17 195,31 181,48 14,48 0,31 0,17"/><text class="n" y="12.3"><tspan x="97.5">Бог войны</tspan><tspan x="97.5" dy="10.4">Сложность: 10</tspan><tspan x="97.5" dy="10.4">Эффект: титан, 10 слотов, ужас,</tspan><tspan x="97.5" dy="10.4">Любимец 4</tspan></text></g>
<g transform="translate(708,768)"><rect class="r" width="195" height="48"/><text class="n" y="12.3"><tspan x="97.5">Оружие на "новой физике"</tspan><tspan x="97.5" dy="10.4">Сложность: 5, тех.</tspan><tspan x="97.5" dy="10.4">Физика гиперпространства</tspan><tspan x="97.5" dy="10.4">Эффект: Атака +3</tspan></text></g>
<g transform="translate(922,768)"><polygon class="r" points="23,0 172,0 195,48 0,48"/><text class="n" y="17.5"><tspan x="97.5">Улучшенный ИИ</tspan><tspan x="97.5" dy="10.4">Сложность: 5</tspan><tspan x="97.5" dy="10.4">Эффект: Атака +2, Уклонение +4</tspan></text></g>
<g transform="translate(1133,768)"><rect class="g" width="195" height="48"/><text y="17.5"><tspan x="97.5">Борьба с пиратством</tspan><tspan x="97.5" dy="10.4">Сложность: 5</tspan><tspan x="97.5" dy="10.4">Эффект: :+10 кубов в бою с пиратами</tspan></text></g>
<g transform="translate(1350,768)"><polygon class="r" points="14,0 181,0 195,17 195,31 181,48 14,48 0,31 0,17"/><text y="17.5"><tspan x="97.5">Линкор</tspan><tspan x="97.5" dy="10.4">Сложность: 5</tspan><tspan x="97.5" dy="10.4">Эффект: звездолёт, 5 слотов</tspan></text></g>

<!-- ROW 12 -->
<g transform="translate(57,836)"><rect class="b" width="195" height="48"/><text y="12.3"><tspan x="97.5">Интеллектуальное восстановление</tspan><tspan x="97.5" dy="10.4">Сложность: 5</tspan><tspan x="97.5" dy="10.4">Эффект:: Армии на союзной планете</tspan><tspan x="97.5" dy="10.4">восстанавливаются за один ход</tspan></text></g>
<g transform="translate(272,836)"><rect class="b" width="195" height="48"/><text y="12.3"><tspan x="97.5">Тактическая левитация</tspan><tspan x="97.5" dy="10.4">Сложность: 5,</tspan><tspan x="97.5" dy="10.4">тех. Управление гравитацией</tspan><tspan x="97.5" dy="10.4">Эффект: Скорость армий +3</tspan></text></g>
<g transform="translate(490,836)"><polygon class="r" points="0,0 181,0 195,24 181,48 0,48 14,24"/><text class="n" y="12.3"><tspan x="97.5">Стазокерамическая броня</tspan><tspan x="97.5" dy="10.4">Сложность: 5, стазокерамика(1)</tspan><tspan x="97.5" dy="10.4">Эффект: Защита +4, Гарантированная</tspan><tspan x="97.5" dy="10.4">защита 1</tspan></text></g>
<g transform="translate(708,836)"><rect class="b" width="195" height="48"/><text class="n" y="17.5"><tspan x="97.5">Военная гравитоника</tspan><tspan x="97.5" dy="10.4">Сложность: 5, тех. Управление гравитацией</tspan><tspan x="97.5" dy="10.4">Эффект: Щит +1</tspan></text></g>
<g transform="translate(922,836)"><polygon class="r" points="0,0 181,0 195,24 181,48 0,48 14,24"/><text class="n" y="12.3"><tspan x="97.5">Мезонные орудия</tspan><tspan x="97.5" dy="10.4">Сложность: 6,</tspan><tspan x="97.5" dy="10.4">тех. Аномальные топологии</tspan><tspan x="97.5" dy="10.4">Эффект: Атака 6, ББ, рад</tspan></text></g>
<g transform="translate(1133,836)"><rect class="b" width="195" height="48"/><text y="17.5"><tspan x="97.5">Тактика межзвёздной войны</tspan><tspan x="97.5" dy="10.4">Сложность: 5</tspan><tspan x="97.5" dy="10.4">Эффект: Создание флотов +10</tspan></text></g>
<g transform="translate(1350,836)"><polygon class="r" points="0,0 195,0 172,48 23,48"/><text y="17.5"><tspan x="97.5">Мобильный комиссариат</tspan><tspan x="97.5" dy="10.4">Сложность: 5</tspan><tspan x="97.5" dy="10.4">Эффект: Контршпионаж +9</tspan></text></g>

<!-- ROW 13 -->
<g transform="translate(57,905)"><polygon class="r" points="14,0 181,0 195,17 195,31 181,48 14,48 0,31 0,17"/><text y="12.3"><tspan x="97.5">Лев-эсминцы</tspan><tspan x="97.5" dy="10.4">Сложность: 6</tspan><tspan x="97.5" dy="10.4">Эффект: танки, 6 слотов,</tspan><tspan x="97.5" dy="10.4">Полёт 1</tspan></text></g>
<g transform="translate(272,905)"><rect class="b" width="195" height="48"/><text y="17.5"><tspan x="97.5">Межзвёздный плацдарм</tspan><tspan x="97.5" dy="10.4">Сложность: 5, тех. Межзвёздная власть</tspan><tspan x="97.5" dy="10.4">Эффект: Создание наземных баз +10</tspan></text></g>
<g transform="translate(490,905)"><polygon class="r" points="0,0 181,0 195,24 181,48 0,48 14,24"/><text class="n" y="17.5"><tspan x="97.5">Щит искривления</tspan><tspan x="97.5" dy="10.4">Сложность: 5</tspan><tspan x="97.5" dy="10.4">Эффект: Щит 10</tspan></text></g>
<g transform="translate(708,905)"><rect class="b" width="195" height="48"/><text class="n" y="12.3"><tspan x="97.5">Сверхсветовая координация</tspan><tspan x="97.5" dy="10.4">Сложность: 5, тех. Ансибль</tspan><tspan x="97.5" dy="10.4">Эффект:</tspan><tspan x="97.5" dy="10.4">:Орудия Дайсона могут стрелять</tspan></text></g>
<g transform="translate(922,905)"><polygon class="r" points="0,0 181,0 195,24 181,48 0,48 14,24"/><text class="n" y="17.5"><tspan x="97.5">Сингулярная шрапнель</tspan><tspan x="97.5" dy="10.4">Сложность: 5, экзотматерия(1)</tspan><tspan x="97.5" dy="10.4">Эффект: Атака 6, ББ</tspan></text></g>
<g transform="translate(1133,905)"><rect class="r" width="195" height="48"/><text y="12.3"><tspan x="97.5">Суперкорабли</tspan><tspan x="97.5" dy="10.4">Сложность: 5, тех. Естественная</tspan><tspan x="97.5" dy="10.4">навигация</tspan><tspan x="97.5" dy="10.4">Эффект: +3 очка распределения флотам</tspan></text></g>
<g transform="translate(1350,905)"><ellipse class="r" cx="97.5" cy="24" rx="97.5" ry="24"/><text y="12.3"><tspan x="97.5">Ускоряющие врата</tspan><tspan x="97.5" dy="10.4">Сложность: 8, чудо,</tspan><tspan x="97.5" dy="10.4">тех. Энергия гиперпространства</tspan><tspan x="97.5" dy="10.4">Эффект: :Скорость FTL из системы +2</tspan></text></g>

<!-- ROW 14 -->
<g transform="translate(57,973)"><polygon class="r" points="23,0 172,0 195,48 0,48"/><text y="12.3"><tspan x="97.5">Боевые экзоты</tspan><tspan x="97.5" dy="10.4">Сложность: 3,</tspan><tspan x="97.5" dy="10.4">тех. Использование экзотов</tspan><tspan x="97.5" dy="10.4">Эффект: Атака +3, рад, ужас</tspan></text></g>
<g transform="translate(272,973)"><rect class="b" width="195" height="48"/><text y="17.5"><tspan x="97.5">Трансчеловеческие подразделения</tspan><tspan x="97.5" dy="10.4">Сложность: 6, тех. Искусственное тело</tspan><tspan x="97.5" dy="10.4">Эффект: +3 очка распределения армиям</tspan></text></g>
<g transform="translate(708,973)"><rect class="b" width="195" height="48"/><text class="n" y="17.5"><tspan x="97.5">Боевое применение нейтрония</tspan><tspan x="97.5" dy="10.4">Сложность: 6, тех. Звёздная материя</tspan><tspan x="97.5" dy="10.4">Эффект: Защита +3</tspan></text></g>
<g transform="translate(922,973)"><polygon class="r" points="0,0 195,0 172,48 23,48"/><text class="n" y="12.3"><tspan x="97.5">Служба координации огня</tspan><tspan x="97.5" dy="10.4">Сложность: 5, экзотматерия (1)</tspan><tspan x="97.5" dy="10.4">Эффект: Атака флотов +1,</tspan><tspan x="97.5" dy="10.4">в системе</tspan></text></g>
<g transform="translate(1133,973)"><rect class="b" width="195" height="48"/><text y="12.3"><tspan x="97.5">Война в гиперпространстве</tspan><tspan x="97.5" dy="10.4">Сложность: 6, тех. Гиперволны</tspan><tspan x="97.5" dy="10.4">Эффект: Скорость FTL +3,</tspan><tspan x="97.5" dy="10.4">:видны все корабли в галактике</tspan></text></g>
<g transform="translate(1350,973)"><polygon class="r" points="14,0 181,0 195,17 195,31 181,48 14,48 0,31 0,17"/><text y="17.5"><tspan x="97.5">Титан</tspan><tspan x="97.5" dy="10.4">Сложность: 7</tspan><tspan x="97.5" dy="10.4">Эффект: звездолёт, 7 слотов</tspan></text></g>

<!-- ROW 15 -->
<g transform="translate(272,1042)"><rect class="b" width="195" height="48"/><text y="12.3"><tspan x="97.5">Миры-крепости</tspan><tspan x="97.5" dy="10.4">Сложность: 6</tspan><tspan x="97.5" dy="10.4">Эффект: Создание наземных баз +4,</tspan><tspan x="97.5" dy="10.4">Защита колонии +4</tspan></text></g>
<g transform="translate(490,1042)"><polygon class="r" points="0,0 195,0 172,48 23,48"/><text class="n" y="12.3"><tspan x="97.5">Живой нейтроний</tspan><tspan x="97.5" dy="10.4">Сложность: 5, нейтроний(1)</tspan><tspan x="97.5" dy="10.4">Эффект: Защита +4,</tspan><tspan x="97.5" dy="10.4">Регенерация +1</tspan></text></g>
<g transform="translate(708,1042)"><rect class="b" width="195" height="48"/><text class="n" y="17.5"><tspan x="97.5">Оружие гиперпространства</tspan><tspan x="97.5" dy="10.4">Сложность: 6, тех. Гиперплазма</tspan><tspan x="97.5" dy="10.4">Эффект: Атака +3</tspan></text></g>
<g transform="translate(922,1042)"><rect class="b" width="195" height="48"/><text class="n" y="12.3"><tspan x="97.5">Нейтрониевая шрапнель</tspan><tspan x="97.5" dy="10.4">Сложность: 6,</tspan><tspan x="97.5" dy="10.4">нейтроний (1)</tspan><tspan x="97.5" dy="10.4">Эффект: Бомбардировка +12</tspan></text></g>
<g transform="translate(1133,1042)"><rect class="r" width="195" height="48"/><text y="17.5"><tspan x="97.5">Планетоидная инженерия</tspan><tspan x="97.5" dy="10.4">Сложность: 7, тех. Звёздная материя</tspan><tspan x="97.5" dy="10.4">Эффект: Защита флотов +4</tspan></text></g>
<g transform="translate(1350,1042)"><ellipse class="r" cx="97.5" cy="24" rx="97.5" ry="24"/><text y="12.3"><tspan x="97.5">Гиперподавитель</tspan><tspan x="97.5" dy="10.4">Сложность: 6, экзотическая материя (1)</tspan><tspan x="97.5" dy="10.4">Эффект: :замедляет вдвое чужие</tspan><tspan x="97.5" dy="10.4">FTL-переходы в и из системы</tspan></text></g>

<!-- ROW 16 -->
<g transform="translate(57,1110)"><polygon class="r" points="15,0 195,0 180,48 0,48"/><text y="12.3"><tspan x="97.5">Планетарный бастион</tspan><tspan x="97.5" dy="10.4">Сложность: 10</tspan><tspan x="97.5" dy="10.4">Эффект: наземная база, 8 слотов,</tspan><tspan x="97.5" dy="10.4">Создание армий +3, Защита колонии +6</tspan></text></g>
<g transform="translate(272,1110)"><rect class="b" width="195" height="48"/><text y="12.3"><tspan x="97.5">Мгновенное реагирование</tspan><tspan x="97.5" dy="10.4">Сложность: 8, тех. Телепортация</tspan><tspan x="97.5" dy="10.4">Эффект: :переброска армий на любую</tspan><tspan x="97.5" dy="10.4">дружественную планету мгновенна</tspan></text></g>
<g transform="translate(490,1110)"><polygon class="r" points="15,0 195,0 180,48 0,48"/><text class="n" y="17.5"><tspan x="97.5">Система "Винегрет"</tspan><tspan x="97.5" dy="10.4">Сложность: 7, тех. Гиперплазма</tspan><tspan x="97.5" dy="10.4">Эффект: Атака 18, массовое</tspan></text></g>
<g transform="translate(708,1110)"><polygon class="b" points="0,0 181,0 195,24 181,48 0,48 14,24"/><text class="n" y="12.3"><tspan x="97.5">Странглетовое супероружие</tspan><tspan x="97.5" dy="10.4">Сложность: 8, нейтроний (2),</tspan><tspan x="97.5" dy="10.4">гиперплазма (2)</tspan><tspan x="97.5" dy="10.4">Эффект: Атака 3, странглет</tspan></text></g>
<g transform="translate(922,1110)"><polygon class="r" points="0,0 181,0 195,24 181,48 0,48 14,24"/><text class="n" y="12.3"><tspan x="97.5">Экстрамерные боеголовки</tspan><tspan x="97.5" dy="10.4">Сложность: 6, гиперплазма(1)</tspan><tspan x="97.5" dy="10.4">Эффект: Атака 4, :разрушение</tspan><tspan x="97.5" dy="10.4">модулей при критуспехе</tspan></text></g>
<g transform="translate(1133,1110)"><polygon class="r" points="18,0 177,0 195,24 177,48 18,48 0,24"/><text y="12.3"><tspan x="97.5">И-врата</tspan><tspan x="97.5" dy="10.4">Сложность: 6, тех. Телепортация</tspan><tspan x="97.5" dy="10.4">Эффект: :мгновенная переброска флота</tspan><tspan x="97.5" dy="10.4">между И-вратами</tspan></text></g>
<g transform="translate(1350,1110)"><polygon class="r" points="14,0 181,0 195,17 195,31 181,48 14,48 0,31 0,17"/><text y="12.3"><tspan x="97.5">Звезда Смерти</tspan><tspan x="97.5" dy="10.4">Сложность: 15</tspan><tspan x="97.5" dy="10.4">Эффект: звездолёт, 15 слотов,</tspan><tspan x="97.5" dy="10.4">Любимец 8</tspan></text></g>
</svg>
</body></html>
